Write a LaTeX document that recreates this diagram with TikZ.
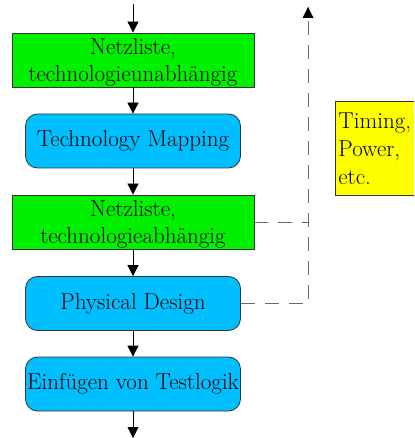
\documentclass[tikz,border=0pt]{standalone}
\usepackage{fontspec}
\setmainfont{Latin Modern Roman}
\usetikzlibrary{arrows.meta}
\definecolor{netgreen}{HTML}{00F000}
\definecolor{stepblue}{HTML}{00BFFF}
\definecolor{noteyellow}{HTML}{FFFF00}
\definecolor{dashgray}{HTML}{666666}
\tikzset{
  netbox/.style={draw=black!80, fill=netgreen, line width=0.8pt, minimum width=242pt, minimum height=54pt,
    inner sep=0pt, text depth=0pt, align=center, font=\rmfamily\fontsize{23}{27}\selectfont},
  stepbox/.style={draw=black!80, fill=stepblue, line width=0.8pt, rounded corners=12pt, minimum width=215pt,
    minimum height=54pt, inner sep=0pt, align=center, font=\rmfamily\fontsize{23}{27}\selectfont},
  flow/.style={line width=0.8pt, -{Triangle[length=11pt,width=11pt]}},
  feedback/.style={draw=dashgray, line width=0.9pt, dash pattern=on 14pt off 10pt},
}
\begin{document}
\begin{tikzpicture}[x=1pt,y=-1pt]
  \useasboundingbox (0,0) rectangle (414,438);
  \begin{scope}
  \clip (0,0) rectangle (414,438);
  % flow steps
  \node[netbox] (n1) at (133,60) {Netzliste,\\technologieunabhängig};
  \node[stepbox] (tm) at (133,141) {Technology Mapping};
  \node[netbox] (n2) at (133,222) {Netzliste,\\technologieabhängig};
  \node[stepbox] (pd) at (133,303.5) {Physical Design};
  \node[stepbox] (tl) at (133,384) {Einfügen von Testlogik};
  \coordinate (in) at (133,4);
  \coordinate (out) at (133,438);
  \draw[flow] (in) -- (n1.north);
  \draw[flow] (n1.south) -- (tm.north);
  \draw[flow] (tm.south) -- (n2.north);
  \draw[flow] (n2.south) -- (pd.north);
  \draw[flow] (pd.south) -- (tl.north);
  \draw[flow] (tl.south) -- (out);
  % feedback path
  \coordinate (fb) at (308,303.5);
  \coordinate (fbtop) at (308,7);
  \draw[feedback] (pd.east) -- (fb) -- (fbtop);
  \draw[feedback] (n2.east) -- (n2.east -| fb);
  \fill (fbtop) -- ++(-5.5,11) -- ++(11,0) -- cycle;
  % note
  \node[draw=black!80, fill=noteyellow, line width=0.8pt, minimum width=90pt, minimum height=94pt,
    anchor=north west, inner sep=3pt, align=left, text width=84pt,
    font=\rmfamily\fontsize{23}{28}\selectfont] (note) at (335,101) {Timing,\\Power,\\etc.};
  \end{scope}
\end{tikzpicture}
\end{document}
